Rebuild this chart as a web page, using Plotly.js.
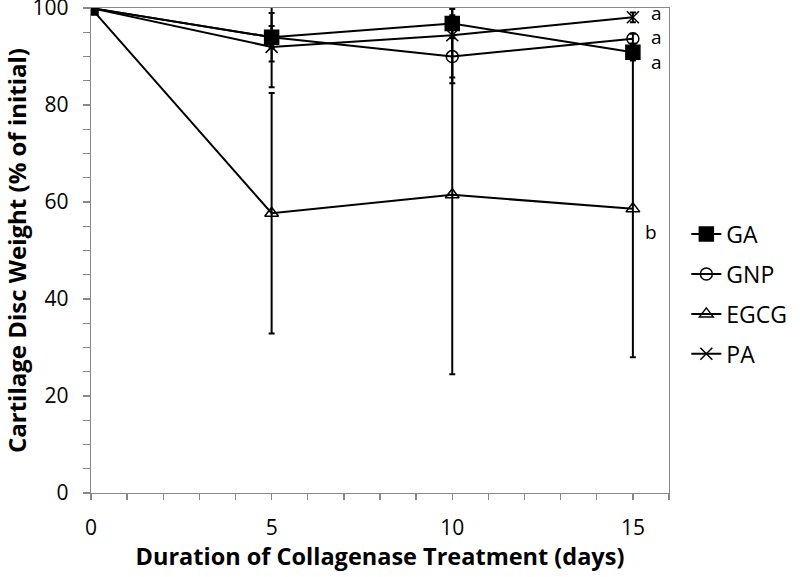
<!DOCTYPE html>
<html>
<head>
<meta charset="utf-8">
<script src="https://cdn.plot.ly/plotly-3.0.1.min.js"></script>
<style>html,body{margin:0;padding:0;background:#fff;}#chart{width:800px;height:577px;}</style>
</head>
<body>
<div id="chart"></div>
<script>
var days = [0, 5, 10, 15];
var gaMean = [100, 94.0, 96.8, 90.9];
var gaErr = [0, 5.0, 3.0, 1.3];
var gnpMean = [100, 94.0, 90.0, 93.7];
var gnpErr = [0, 2.3, 4.3, 1.0];
var egcgMean = [100, 57.7, 61.5, 58.6];
var egcgErr = [0, 24.8, 37.0, 30.6];
var paMean = [100, 92.0, 94.4, 98.1];
var paErr = [0, 8.3, 9.9, 1.0];
var seriesNames = ['GA', 'GNP', 'EGCG', 'PA'];
var letters = ['a', 'a', 'a', 'b'];
var letterY = [99.0, 94.0, 88.8, 53.8];

var font = '"Open Sans", "Liberation Sans", sans-serif';
function mk(name, y, err, symbol, size, fill) {
  return {
    x: days, y: y, name: name, legendgroup: name, type: 'scatter', mode: 'lines+markers',
    line: {color: '#000', width: 2},
    marker: {symbol: symbol, size: size, color: fill, line: {color: '#000', width: 1.5}},
    error_y: {type: 'data', array: err, visible: true, color: '#000', thickness: 2, width: 3},
    cliponaxis: true
  };
}
var traces = [
  mk(seriesNames[0], gaMean, gaErr, 'square', 14, '#000'),
  mk(seriesNames[1], gnpMean, gnpErr, 'circle-open', 12, '#000'),
  mk(seriesNames[2], egcgMean, egcgErr, 'triangle-up-open', 12, '#000'),
  mk(seriesNames[3], paMean, paErr, 'x-thin-open', 12, '#000')
];

var annotations = letters.map(function (t, i) {
  return {x: 15, y: letterY[i], xref: 'x', yref: 'y', text: t, showarrow: false, height: 16,
    xshift: i === 3 ? 18 : 24, font: {family: font, size: 19, color: '#000'}};
});

var layout = {
  width: 800, height: 577,
  margin: {l: 91, r: 123, t: 8, b: 84},
  paper_bgcolor: '#fff', plot_bgcolor: '#fff',
  showlegend: true,
  legend: {x: 1.03, y: 0.41, xanchor: 'left', yanchor: 'middle', traceorder: 'grouped',
    font: {family: font, size: 23, color: '#000'}, itemwidth: 30, tracegroupgap: 7},
  xaxis: {
    range: [0, 16], tickvals: [0, 5, 10, 15], ticks: 'outside', ticklen: 6,
    tickcolor: '#888', tickwidth: 1.3, showgrid: false, zeroline: false,
    showline: true, linecolor: '#888', linewidth: 1.3, mirror: true,
    minor: {dtick: 1, ticks: 'outside', ticklen: 6, tickcolor: '#888', tickwidth: 1.3, showgrid: false},
    tickfont: {family: font, size: 21, color: '#000'}, ticklabelstandoff: 9, ticklabeloverflow: 'allow',
    title: {text: '<b>Duration of Collagenase Treatment (days)</b>', font: {family: font, size: 23.5, color: '#000'}, standoff: 6}
  },
  yaxis: {
    range: [0, 100.02], tickvals: [0, 20, 40, 60, 80, 100], ticks: 'outside', ticklen: 7,
    tickcolor: '#888', tickwidth: 1.3, showgrid: false, zeroline: false,
    showline: true, linecolor: '#888', linewidth: 1.3, mirror: true,
    minor: {dtick: 5, ticks: 'outside', ticklen: 7, tickcolor: '#888', tickwidth: 1.3, showgrid: false},
    tickfont: {family: font, size: 21, color: '#000'}, ticklabelstandoff: 10, ticklabeloverflow: 'allow',
    title: {text: '<b>Cartilage Disc Weight (% of initial)</b>', font: {family: font, size: 24, color: '#000'}, standoff: 12}
  },
  annotations: annotations
};
Plotly.newPlot('chart', traces, layout, {displayModeBar: false, staticPlot: true});
</script>
</body>
</html>
